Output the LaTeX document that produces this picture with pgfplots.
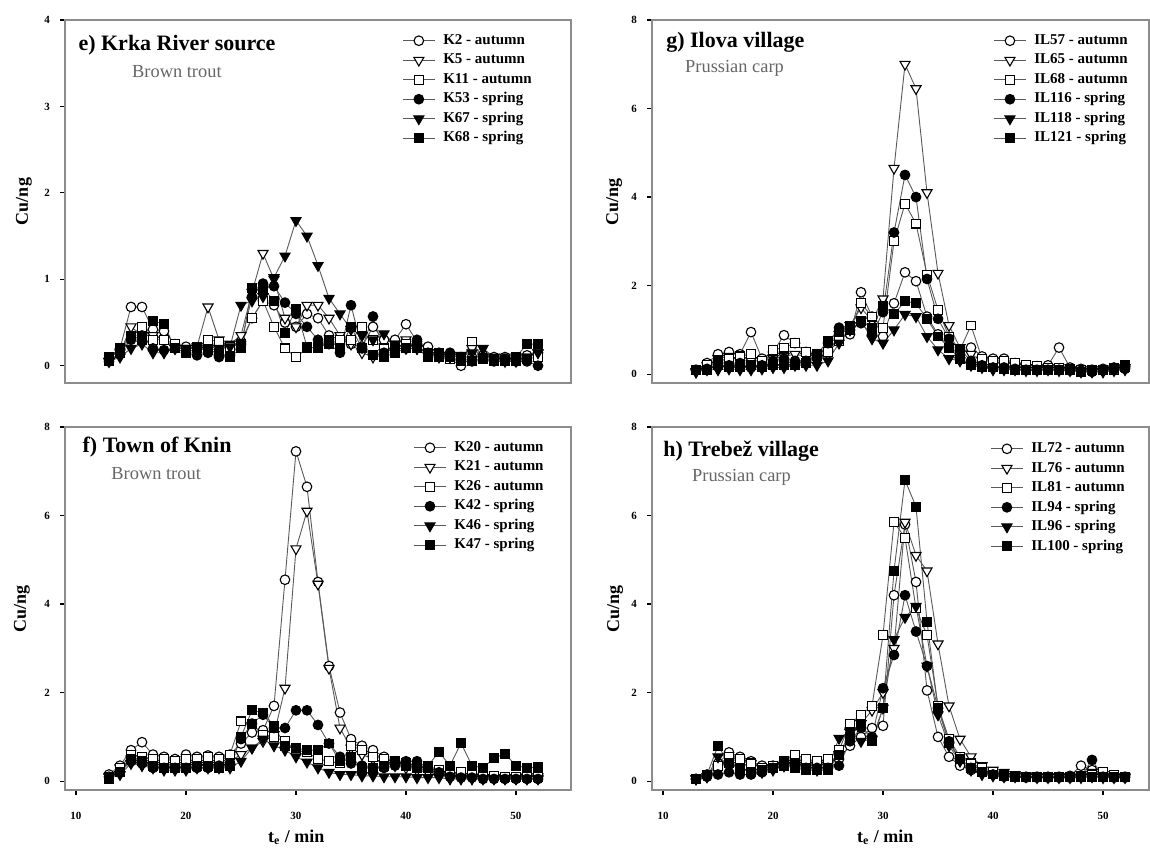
\documentclass[border=0pt]{standalone}
\usepackage{fontspec}
\setmainfont{Liberation Serif}
\usepackage{pgfplots}
\usepackage{pgfplotstable}
\pgfplotsset{compat=1.18}

% e) Krka River source: K2, K5, K11 (autumn), K53, K67, K68 (spring)
\pgfplotstableread{
x a b c d e f
13 0.08 0.05 0.05 0.05 0.05 0.10
14 0.20 0.15 0.15 0.15 0.10 0.20
15 0.68 0.45 0.35 0.30 0.20 0.35
16 0.68 0.35 0.45 0.35 0.25 0.30
17 0.42 0.35 0.30 0.20 0.15 0.52
18 0.40 0.30 0.30 0.18 0.15 0.48
19 0.25 0.20 0.25 0.20 0.20 0.20
20 0.22 0.20 0.18 0.15 0.20 0.15
21 0.20 0.22 0.22 0.12 0.20 0.20
22 0.22 0.68 0.30 0.15 0.18 0.18
23 0.25 0.30 0.28 0.10 0.20 0.15
24 0.20 0.25 0.22 0.12 0.22 0.10
25 0.28 0.35 0.25 0.25 0.70 0.20
26 0.55 0.85 0.55 0.80 0.75 0.90
27 0.75 1.30 0.75 0.95 0.80 0.90
28 0.70 1.00 0.45 0.92 1.02 0.75
29 0.50 0.55 0.20 0.73 1.27 0.38
30 0.45 0.45 0.10 0.60 1.68 0.66
31 0.60 0.70 0.20 0.45 1.50 0.22
32 0.55 0.70 0.22 0.30 1.16 0.20
33 0.35 0.55 0.25 0.25 0.78 0.30
34 0.30 0.35 0.30 0.15 0.60 0.20
35 0.25 0.25 0.30 0.70 0.42 0.45
36 0.22 0.15 0.45 0.20 0.35 0.20
37 0.45 0.10 0.30 0.57 0.30 0.12
38 0.30 0.15 0.20 0.15 0.37 0.10
39 0.30 0.25 0.20 0.20 0.25 0.15
40 0.48 0.30 0.25 0.20 0.20 0.20
41 0.28 0.20 0.20 0.30 0.20 0.20
42 0.22 0.15 0.15 0.15 0.15 0.10
43 0.15 0.10 0.10 0.10 0.12 0.15
44 0.08 0.12 0.08 0.15 0.10 0.10
45 0.00 0.10 0.05 0.10 0.12 0.05
46 0.10 0.20 0.28 0.05 0.15 0.05
47 0.12 0.10 0.08 0.10 0.20 0.08
48 0.10 0.08 0.05 0.05 0.10 0.05
49 0.10 0.10 0.05 0.08 0.05 0.05
50 0.08 0.05 0.05 0.05 0.08 0.10
51 0.12 0.10 0.08 0.05 0.10 0.25
52 0.15 0.15 0.10 0.00 0.15 0.25
}\tabE

% g) Ilova village: IL57, IL65, IL68 (autumn), IL116, IL118, IL121 (spring)
\pgfplotstableread{
x a b c d e f
13 0.10 0.05 0.10 0.08 0.05 0.10
14 0.25 0.20 0.20 0.12 0.10 0.10
15 0.45 0.35 0.30 0.30 0.10 0.20
16 0.50 0.40 0.35 0.20 0.12 0.15
17 0.45 0.30 0.40 0.25 0.10 0.15
18 0.95 0.30 0.45 0.15 0.10 0.20
19 0.35 0.30 0.30 0.20 0.12 0.15
20 0.50 0.35 0.55 0.30 0.15 0.20
21 0.88 0.40 0.60 0.35 0.15 0.20
22 0.70 0.45 0.70 0.30 0.20 0.20
23 0.50 0.40 0.50 0.30 0.20 0.25
24 0.45 0.35 0.40 0.35 0.20 0.45
25 0.55 0.45 0.50 0.70 0.30 0.75
26 0.80 0.90 0.75 1.05 0.70 0.95
27 0.90 1.10 1.00 1.00 1.00 1.10
28 1.85 1.50 1.60 1.15 1.20 1.20
29 1.30 1.20 1.30 0.90 0.80 1.05
30 0.85 1.70 1.05 1.40 0.70 1.55
31 1.60 4.65 3.00 3.20 1.00 1.35
32 2.30 7.00 3.85 4.50 1.35 1.65
33 2.10 6.45 3.40 4.00 1.30 1.60
34 1.30 4.10 2.25 2.15 0.85 1.25
35 0.90 2.28 1.45 1.25 0.55 0.85
36 0.60 1.10 0.85 0.80 0.35 0.60
37 0.45 0.60 0.55 0.55 0.30 0.35
38 0.60 0.45 1.10 0.30 0.20 0.20
39 0.40 0.30 0.35 0.20 0.15 0.15
40 0.35 0.30 0.30 0.15 0.10 0.15
41 0.35 0.20 0.30 0.15 0.10 0.12
42 0.25 0.18 0.25 0.12 0.10 0.10
43 0.20 0.15 0.20 0.10 0.08 0.10
44 0.18 0.15 0.18 0.10 0.08 0.10
45 0.20 0.12 0.15 0.10 0.10 0.10
46 0.60 0.15 0.15 0.10 0.08 0.10
47 0.15 0.10 0.12 0.08 0.08 0.10
48 0.12 0.10 0.10 0.08 0.05 0.05
49 0.10 0.10 0.10 0.05 0.05 0.10
50 0.12 0.10 0.10 0.08 0.05 0.10
51 0.15 0.12 0.10 0.10 0.08 0.15
52 0.20 0.15 0.15 0.12 0.10 0.20
}\tabG

% f) Town of Knin: K20, K21, K26 (autumn), K42, K46, K47 (spring)
\pgfplotstableread{
x a b c d e f
13 0.15 0.10 0.10 0.10 0.10 0.05
14 0.35 0.30 0.30 0.20 0.15 0.20
15 0.70 0.50 0.60 0.45 0.40 0.50
16 0.88 0.45 0.55 0.40 0.35 0.45
17 0.60 0.40 0.50 0.30 0.30 0.35
18 0.55 0.35 0.50 0.30 0.25 0.30
19 0.50 0.30 0.45 0.30 0.25 0.30
20 0.60 0.35 0.50 0.30 0.25 0.30
21 0.55 0.40 0.50 0.30 0.30 0.35
22 0.58 0.35 0.55 0.30 0.30 0.35
23 0.55 0.40 0.50 0.35 0.30 0.30
24 0.60 0.45 0.60 0.40 0.30 0.35
25 0.85 0.60 1.35 0.95 0.45 1.00
26 1.10 0.75 1.30 1.30 0.75 1.60
27 1.15 0.90 1.05 1.50 0.95 1.55
28 1.70 1.05 1.00 1.20 0.80 1.25
29 4.55 2.10 0.90 1.20 0.70 0.80
30 7.45 5.25 0.70 1.60 0.55 0.75
31 6.65 6.10 0.65 1.60 0.43 0.70
32 4.50 4.45 0.50 1.27 0.30 0.70
33 2.60 2.55 0.45 0.85 0.20 0.85
34 1.55 1.20 0.40 0.55 0.15 0.45
35 0.95 0.75 0.80 0.40 0.15 0.55
36 0.80 0.60 0.70 0.35 0.12 0.30
37 0.70 0.50 0.55 0.30 0.12 0.30
38 0.55 0.40 0.50 0.30 0.10 0.35
39 0.45 0.35 0.45 0.35 0.10 0.45
40 0.40 0.30 0.40 0.45 0.10 0.35
41 0.35 0.25 0.35 0.45 0.08 0.30
42 0.30 0.20 0.30 0.30 0.08 0.35
43 0.20 0.15 0.25 0.20 0.08 0.66
44 0.15 0.12 0.20 0.10 0.05 0.35
45 0.12 0.10 0.20 0.08 0.05 0.86
46 0.10 0.10 0.15 0.08 0.05 0.35
47 0.10 0.08 0.15 0.05 0.05 0.30
48 0.10 0.08 0.12 0.05 0.05 0.52
49 0.08 0.08 0.10 0.05 0.05 0.62
50 0.08 0.08 0.10 0.05 0.05 0.35
51 0.10 0.10 0.10 0.05 0.05 0.30
52 0.10 0.10 0.10 0.05 0.05 0.32
}\tabF

% h) Trebez village: IL72, IL76, IL81 (autumn), IL94, IL96, IL100 (spring)
\pgfplotstableread{
x a b c d e f
13 0.05 0.05 0.05 0.05 0.05 0.05
14 0.15 0.10 0.15 0.10 0.10 0.15
15 0.40 0.30 0.35 0.15 0.55 0.80
16 0.65 0.50 0.55 0.20 0.35 0.40
17 0.55 0.45 0.50 0.15 0.30 0.30
18 0.45 0.40 0.40 0.15 0.20 0.20
19 0.35 0.30 0.30 0.20 0.20 0.25
20 0.35 0.30 0.35 0.30 0.25 0.30
21 0.40 0.35 0.45 0.45 0.35 0.35
22 0.55 0.40 0.60 0.40 0.35 0.30
23 0.45 0.35 0.50 0.30 0.30 0.25
24 0.40 0.35 0.45 0.30 0.25 0.25
25 0.45 0.40 0.50 0.30 0.30 0.25
26 0.50 0.60 0.70 0.35 0.97 0.60
27 0.80 1.10 1.30 0.90 1.13 1.00
28 1.00 1.30 1.50 1.20 0.90 1.30
29 1.20 1.60 1.70 1.00 0.95 0.90
30 1.25 2.00 3.30 2.10 1.65 1.65
31 4.20 3.00 5.85 2.85 3.20 4.75
32 5.80 5.85 5.50 4.20 3.70 6.80
33 4.50 5.10 3.90 3.38 3.95 6.20
34 2.05 4.75 3.30 2.60 2.60 3.60
35 1.00 3.10 1.70 1.65 1.50 1.65
36 0.55 1.70 0.95 0.90 0.80 0.85
37 0.35 0.95 0.55 0.50 0.45 0.50
38 0.25 0.55 0.40 0.30 0.25 0.30
39 0.20 0.35 0.30 0.20 0.15 0.20
40 0.15 0.25 0.20 0.15 0.12 0.15
41 0.12 0.20 0.15 0.10 0.10 0.12
42 0.10 0.15 0.12 0.10 0.10 0.10
43 0.10 0.12 0.10 0.08 0.10 0.10
44 0.10 0.10 0.10 0.08 0.08 0.10
45 0.10 0.10 0.10 0.08 0.08 0.10
46 0.10 0.10 0.10 0.08 0.08 0.10
47 0.12 0.10 0.10 0.08 0.08 0.10
48 0.35 0.15 0.12 0.10 0.08 0.10
49 0.25 0.20 0.15 0.48 0.10 0.10
50 0.12 0.15 0.20 0.10 0.08 0.10
51 0.10 0.10 0.15 0.08 0.08 0.10
52 0.10 0.10 0.10 0.08 0.08 0.10
}\tabH

\pgfplotsset{
  panel/.style={
    scale only axis, height=181.5pt,
    ymin=-0.2,
    axis line style={draw=black!45, line width=1.1pt},
    tick style={black, line width=0.6pt},
    major tick length=2.5pt,
    tick align=outside,
    ytick pos=left, xtick pos=bottom,
    ticklabel style={font=\fontsize{5.5}{6}\selectfont\bfseries},
    yticklabel style={xshift=-1.5pt},
    xticklabel style={yshift=-5pt},
    /pgf/number format/assume math mode=true,
    ylabel={Cu/ng},
    every axis y label/.style={rotate=90, anchor=center,
      font=\fontsize{9}{10}\selectfont\bfseries},
    every axis x label/.style={anchor=center,
      font=\fontsize{9}{10}\selectfont\bfseries},
    legend cell align=left,
    legend style={anchor=north west, draw=none, fill=none, inner sep=0pt,
      row sep=2.5pt, column sep=4pt, font=\fontsize{7.5}{8}\selectfont\bfseries,
      nodes={inner sep=0pt, text height=5.5pt, text depth=1.75pt}},
    legend image code/.code={
      \draw[##1, mark repeat=2, mark phase=2]
        plot coordinates {(0pt,0pt) (8pt,0pt) (16pt,0pt)};
    },
  },
  leftpanel/.style={panel, width=253pt, xmin=9, xmax=55},
  rightpanel/.style={panel, width=248.6pt, xmin=9, xmax=54.2},
  ser/.style={draw=black!65, line width=0.45pt},
  s1/.style={ser, mark=*, mark size=2.4pt,
    mark options={draw=black, fill=white, line width=0.55pt}},
  s2/.style={ser, mark=triangle*, mark size=2.9pt,
    mark options={draw=black, fill=white, rotate=180, line width=0.55pt}},
  s3/.style={ser, mark=square*, mark size=2.2pt,
    mark options={draw=black, fill=white, line width=0.55pt}},
  s4/.style={ser, mark=*, mark size=2.4pt,
    mark options={draw=black, fill=black, line width=0.55pt}},
  s5/.style={ser, mark=triangle*, mark size=2.9pt,
    mark options={draw=black, fill=black, rotate=180, line width=0.55pt}},
  s6/.style={ser, mark=square*, mark size=2.2pt,
    mark options={draw=black, fill=black, line width=0.55pt}},
}

\tikzset{
  ptitle/.style={anchor=west, inner sep=0pt, font=\fontsize{11}{12}\selectfont\bfseries},
  pfish/.style={anchor=west, inner sep=0pt, text=black!60, font=\fontsize{9.2}{10}\selectfont},
}

\begin{document}
\begin{tikzpicture}
\useasboundingbox (0,0) rectangle (575pt,426.5pt);

% e) Krka River source
\begin{axis}[leftpanel, at={(32.5pt,235pt)}, anchor=south west,
  ymax=4, ytick={0,1,2,3,4}, xtick=\empty,
  every axis y label/.append style={at={(axis description cs:-0.081,0.5)}},
  legend style={at={(0.666,0.964)}}]
\addplot[s1] table[x=x,y=a]{\tabE}; \addlegendentry{K2 - autumn}
\addplot[s2] table[x=x,y=b]{\tabE}; \addlegendentry{K5 - autumn}
\addplot[s3] table[x=x,y=c]{\tabE}; \addlegendentry{K11 - autumn}
\addplot[s4] table[x=x,y=d]{\tabE}; \addlegendentry{K53 - spring}
\addplot[s5] table[x=x,y=e]{\tabE}; \addlegendentry{K67 - spring}
\addplot[s6] table[x=x,y=f]{\tabE}; \addlegendentry{K68 - spring}
\node[ptitle] at (rel axis cs:0.026,0.931) {e) Krka River source};
\node[pfish] at (rel axis cs:0.132,0.857) {Brown trout};
\end{axis}

% g) Ilova village
\begin{axis}[rightpanel, at={(326pt,235pt)}, anchor=south west,
  ymax=8, ytick={0,2,4,6,8}, xtick=\empty,
  every axis y label/.append style={at={(axis description cs:-0.076,0.5)}},
  legend style={at={(0.686,0.964)}}]
\addplot[s1] table[x=x,y=a]{\tabG}; \addlegendentry{IL57 - autumn}
\addplot[s2] table[x=x,y=b]{\tabG}; \addlegendentry{IL65 - autumn}
\addplot[s3] table[x=x,y=c]{\tabG}; \addlegendentry{IL68 - autumn}
\addplot[s4] table[x=x,y=d]{\tabG}; \addlegendentry{IL116 - spring}
\addplot[s5] table[x=x,y=e]{\tabG}; \addlegendentry{IL118 - spring}
\addplot[s6] table[x=x,y=f]{\tabG}; \addlegendentry{IL121 - spring}
\node[ptitle] at (rel axis cs:0.028,0.939) {g) Ilova village};
\node[pfish] at (rel axis cs:0.066,0.868) {Prussian carp};
\end{axis}

% f) Town of Knin
\begin{axis}[leftpanel, at={(32.5pt,31.5pt)}, anchor=south west,
  ymax=8, ytick={0,2,4,6,8}, xtick={10,20,30,40,50},
  xlabel={t\textsubscript{e} / min},
  every axis x label/.append style={at={(axis description cs:0.457,-0.13)}},
  every axis y label/.append style={at={(axis description cs:-0.085,0.5)}},
  legend style={at={(0.688,0.964)}}]
\addplot[s1] table[x=x,y=a]{\tabF}; \addlegendentry{K20 - autumn}
\addplot[s2] table[x=x,y=b]{\tabF}; \addlegendentry{K21 - autumn}
\addplot[s3] table[x=x,y=c]{\tabF}; \addlegendentry{K26 - autumn}
\addplot[s4] table[x=x,y=d]{\tabF}; \addlegendentry{K42 - spring}
\addplot[s5] table[x=x,y=e]{\tabF}; \addlegendentry{K46 - spring}
\addplot[s6] table[x=x,y=f]{\tabF}; \addlegendentry{K47 - spring}
\node[ptitle] at (rel axis cs:0.034,0.945) {f) Town of Knin};
\node[pfish] at (rel axis cs:0.091,0.873) {Brown trout};
\end{axis}

% h) Trebez village
\begin{axis}[rightpanel, at={(326pt,31.5pt)}, anchor=south west,
  ymax=8, ytick={0,2,4,6,8}, xtick={10,20,30,40,50},
  xlabel={t\textsubscript{e} / min},
  every axis x label/.append style={at={(axis description cs:0.469,-0.13)}},
  every axis y label/.append style={at={(axis description cs:-0.074,0.5)}},
  legend style={at={(0.68,0.961)}}]
\addplot[s1] table[x=x,y=a]{\tabH}; \addlegendentry{IL72 - autumn}
\addplot[s2] table[x=x,y=b]{\tabH}; \addlegendentry{IL76 - autumn}
\addplot[s3] table[x=x,y=c]{\tabH}; \addlegendentry{IL81 - autumn}
\addplot[s4] table[x=x,y=d]{\tabH}; \addlegendentry{IL94 - spring}
\addplot[s5] table[x=x,y=e]{\tabH}; \addlegendentry{IL96 - spring}
\addplot[s6] table[x=x,y=f]{\tabH}; \addlegendentry{IL100 - spring}
\node[ptitle] at (rel axis cs:0.022,0.934) {h) Trebež village};
\node[pfish] at (rel axis cs:0.080,0.860) {Prussian carp};
\end{axis}
\end{tikzpicture}
\end{document}
